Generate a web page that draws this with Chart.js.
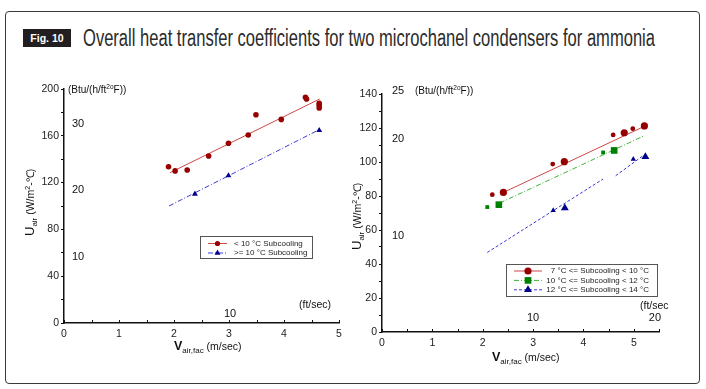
<!DOCTYPE html>
<html>
<head>
<meta charset="utf-8">
<title>Fig. 10 Overall heat transfer coefficients</title>
<script src="https://cdn.jsdelivr.net/npm/chart.js"></script>
<style>
  body { margin: 0; background: #fff; }
  #wrap { position: relative; width: 706px; height: 389px; overflow: hidden; }
  #frame { position: absolute; left: 5px; top: 11px; width: 693px; height: 371px;
           border: 1.5px solid #3a3a3a; border-radius: 4px; }
  #badge { position: absolute; left: 23px; top: 29px; width: 48px; height: 18px;
           background: #231f20; color: #fff; font: bold 10.5px "Liberation Sans", Arial, sans-serif;
           line-height: 18px; text-align: center; }
  #title { position: absolute; left: 83px; top: 27px; font: 23px "Liberation Sans Narrow", "Liberation Sans", sans-serif;
           line-height: 23px; color: #2b2b2b; white-space: nowrap; transform-origin: 0 0; }
  canvas { position: absolute; top: 0; }
</style>
</head>
<body>
<div id="wrap">
  <div id="frame"></div>
  <div id="badge">Fig. 10</div>
  <div id="title">Overall heat transfer coefficients for two microchanel condensers for ammonia</div>
  <canvas id="leftChart" width="350" height="389" style="left:0"></canvas>
  <canvas id="rightChart" width="356" height="389" style="left:350px"></canvas>
</div>

<script>
// ---- left panel: condenser 1 (m/sec, W/m2-C)
const leftLowX = [1.90, 2.02, 2.24, 2.63, 2.99, 3.35, 3.49, 3.95, 4.39, 4.41, 4.64, 4.64, 4.64];
const leftLowY = [133.6, 130.0, 130.8, 142.7, 153.6, 160.7, 178.0, 174.0, 193.0, 191.5, 187.8, 186.0, 183.8];
const leftLowFitX = [1.93, 4.65];
const leftLowFitY = [128.5, 191.5];
const leftHighX = [2.38, 2.99, 4.64];
const leftHighY = [110.3, 126.0, 164.7];
const leftHighFitX = [1.91, 4.65];
const leftHighFitY = [100.0, 165.5];

// ---- right panel: condenser 2
const r7X = [2.19, 2.41, 3.39, 3.62, 4.59, 4.81, 4.98, 5.21];
const r7Y = [80.8, 82.1, 98.8, 100.2, 115.9, 117.2, 119.6, 121.2];
const r7FitX = [2.41, 5.21];
const r7FitY = [82.1, 121.0];
const r10X = [2.09, 2.32, 4.39, 4.61];
const r10Y = [73.5, 74.9, 105.6, 106.8];
const r10FitX = [2.34, 5.21];
const r10FitY = [75.9, 115.5];
const r12X = [3.40, 3.63, 4.99, 5.23];
const r12Y = [71.5, 72.9, 101.7, 103.1];
const r12FitX = [2.09, 4.39, null, 4.64, 5.21];
const r12FitY = [46.8, 90.0, null, 91.9, 104.3];

// secondary unit labels
const leftBtuTicks = [10, 20, 30];
const leftFtTicks = ['10'];
const leftFtAt = [3.02];
const rightBtuTicks = [10, 20, 25];
const rightFtTicks = ['10', '20'];
const rightFtAt = [3.0, 5.42];
const BTU_TO_W = 5.678;

const zip = (xs, ys) => xs.map((x, i) => ({ x: x, y: ys[i] }));
const FONT = '"Liberation Sans", Arial, sans-serif';
Chart.defaults.font.family = FONT;
Chart.defaults.color = '#222';

// title squeezed to the width of the condensed original
const titleEl = document.getElementById('title');
titleEl.style.transform = 'scaleX(' + (572 / titleEl.getBoundingClientRect().width) + ')';

function drawMarker(ctx, style, x, y, r, color) {
  ctx.fillStyle = color;
  ctx.beginPath();
  if (style === 'circle') {
    ctx.arc(x, y, r, 0, Math.PI * 2);
  } else if (style === 'rect') {
    const s = r / Math.SQRT2;
    ctx.rect(x - s, y - s, 2 * s, 2 * s);
  } else {
    const a = Math.PI * 2 / 3;
    ctx.moveTo(x, y - r);
    ctx.lineTo(x + Math.sin(a) * r, y - Math.cos(a) * r);
    ctx.lineTo(x - Math.sin(a) * r, y - Math.cos(a) * r);
    ctx.closePath();
  }
  ctx.fill();
}

// text runs with sub/superscripts, left to right from (x, y)
function drawRich(ctx, x, y, parts) {
  ctx.textAlign = 'left';
  ctx.textBaseline = 'alphabetic';
  parts.forEach(p => {
    ctx.font = p.f + ' ' + FONT;
    ctx.fillText(p.t, x, y + (p.dy || 0));
    x += ctx.measureText(p.t).width;
  });
}

const extras = {
  id: 'extras',
  afterDraw(chart, args, o) {
    const ctx = chart.ctx, xs = chart.scales.x, ys = chart.scales.y, ca = chart.chartArea;
    ctx.save();
    ctx.fillStyle = '#111';

    // inward tick marks on x axis
    ctx.strokeStyle = '#111';
    ctx.lineWidth = 1;
    xs.ticks.forEach(t => {
      const px = Math.round(xs.getPixelForValue(t.value)) + 0.5;
      ctx.beginPath();
      ctx.moveTo(px, ca.bottom);
      ctx.lineTo(px, ca.bottom - 3);
      ctx.stroke();
    });

    // Btu labels inside the plot
    ctx.font = '11px ' + FONT;
    ctx.textAlign = 'left';
    ctx.textBaseline = 'middle';
    o.btu.forEach(v => ctx.fillText(String(v), ca.left + o.btuDx, ys.getPixelForValue(v * BTU_TO_W)));
    drawRich(ctx, ca.left + o.btuUnitDx, ca.top + o.btuUnitDy, [
      { t: '(Btu/(h/ft', f: '10px' }, { t: '2o', f: '6.5px', dy: -4 }, { t: 'F))', f: '10px' }]);

    // ft/sec labels
    ctx.font = '11px ' + FONT;
    ctx.textAlign = 'center';
    ctx.textBaseline = 'middle';
    o.ft.forEach((lab, i) => ctx.fillText(lab, xs.getPixelForValue(o.ftAt[i]), ca.bottom - o.ftDy));
    ctx.textAlign = 'left';
    ctx.font = '10.5px ' + FONT;
    ctx.fillText(o.ftUnit, o.ftUnitX, ca.bottom - o.ftUnitDy);

    // axis titles
    ctx.fillStyle = '#111';
    drawRich(ctx, o.xTitleX, o.xTitleY, [
      { t: 'V', f: 'bold 12.5px' }, { t: 'air,fac', f: '8px', dy: 3 }, { t: ' (m/sec)', f: '10.5px' }]);
    ctx.save();
    ctx.translate(o.yTitleX, o.yTitleY);
    ctx.rotate(-Math.PI / 2);
    drawRich(ctx, 0, 0, [
      { t: 'U', f: '13px' }, { t: 'air', f: '8px', dy: 3 }, { t: ' (W/m', f: '10.5px' },
      { t: '2', f: '7px', dy: -4 }, { t: '-\u2103)', f: '10.5px' }]);
    ctx.restore();

    // legend box
    const L = o.legend;
    ctx.fillStyle = '#fff';
    ctx.fillRect(L.x, L.y, L.w, L.h);
    ctx.strokeStyle = '#555';
    ctx.lineWidth = 1;
    ctx.strokeRect(L.x + 0.5, L.y + 0.5, L.w, L.h);
    L.pairs.forEach((pr, i) => {
      const m = chart.data.datasets[pr[0]], ln = chart.data.datasets[pr[1]];
      const yy = L.y + L.row0 + i * L.rowH;
      ctx.strokeStyle = ln.borderColor;
      ctx.lineWidth = 1;
      ctx.setLineDash(ln.borderDash || []);
      ctx.beginPath();
      ctx.moveTo(L.x + L.lx0, yy);
      ctx.lineTo(L.x + L.lx1, yy);
      ctx.stroke();
      ctx.setLineDash([]);
      drawMarker(ctx, m.pointStyle, L.x + (L.lx0 + L.lx1) / 2, yy, L.mr[i], m.backgroundColor);
      ctx.fillStyle = '#222';
      ctx.font = L.font + ' ' + FONT;
      ctx.textAlign = L.align;
      ctx.textBaseline = 'middle';
      ctx.fillText(m.label, L.x + L.tx, yy);
    });
    ctx.restore();
  }
};

function axes(xMax, yMax, yStep, yLab, yWidth) {
  return {
    x: {
      type: 'linear', min: 0, max: xMax,
      grid: { display: false, drawTicks: false },
      border: { display: true, color: '#111', width: 1.5 },
      ticks: {
        stepSize: 0.5, padding: 5, maxRotation: 0, autoSkip: false,
        font: { size: 10.5 }, color: '#222',
        callback: v => Math.abs(v - Math.round(v)) < 1e-6 ? String(Math.round(v)) : ''
      },
      afterFit: s => { s.height = 20; }
    },
    y: {
      type: 'linear', min: 0, max: yMax,
      grid: { display: true, drawOnChartArea: false, drawTicks: true, tickLength: 3, color: '#111' },
      border: { display: true, color: '#111', width: 1.5 },
      ticks: {
        stepSize: yStep, padding: 2, autoSkip: false, font: { size: 10.5 }, color: '#222',
        callback: v => v % yLab === 0 ? String(v) : ''
      },
      afterFit: s => { s.width = yWidth; }
    }
  };
}

const RED = '#960000', RED_LINE = '#d04848';
const BLUE = '#00008c', BLUE_LINE = '#3a3ad0';
const GREEN = '#008000', GREEN_LINE = '#3cb43c';

new Chart(document.getElementById('leftChart'), {
  type: 'scatter',
  data: {
    datasets: [
      { label: '< 10 \u00b0C Subcooling', data: zip(leftLowX, leftLowY), pointStyle: 'circle',
        pointRadius: 2.8, backgroundColor: RED, borderWidth: 0 },
      { label: 'fit', data: zip(leftLowFitX, leftLowFitY), showLine: true, pointRadius: 0,
        borderColor: RED_LINE, borderWidth: 1 },
      { label: '>= 10 \u00b0C Subcooling', data: zip(leftHighX, leftHighY), pointStyle: 'triangle',
        pointRadius: 3.4, backgroundColor: BLUE, borderWidth: 0 },
      { label: 'fit', data: zip(leftHighFitX, leftHighFitY), showLine: true, pointRadius: 0,
        borderColor: BLUE_LINE, borderWidth: 1, borderDash: [5, 2, 1, 2] }
    ]
  },
  options: {
    responsive: false, animation: false, devicePixelRatio: 1,
    layout: { padding: { left: 0, right: 11, top: 89, bottom: 46 } },
    scales: axes(5, 200, 20, 40, 64),
    plugins: {
      legend: { display: false }, tooltip: { enabled: false },
      extras: {
        btu: leftBtuTicks, btuDx: 8, btuUnitDx: 4, btuUnitDy: 4,
        ft: leftFtTicks, ftAt: leftFtAt, ftDy: 9, ftUnit: '(ft/sec)', ftUnitX: 299, ftUnitDy: 18,
        xTitleX: 174, xTitleY: 350, yTitleX: 34, yTitleY: 236,
        legend: { x: 200, y: 236, w: 112, h: 22, row0: 7.5, rowH: 9.5, lx0: 8, lx1: 27, tx: 34,
                  align: 'left', font: '8px', mr: [2.6, 3.4], pairs: [[0, 1], [2, 3]] }
      }
    }
  },
  plugins: [extras]
});

const smallBig = (n, s, b) => Array.from({ length: n }, (_, i) => i % 2 ? b : s);

new Chart(document.getElementById('rightChart'), {
  type: 'scatter',
  data: {
    datasets: [
      { label: '7 \u00b0C <= Subcooling < 10 \u00b0C', data: zip(r7X, r7Y), pointStyle: 'circle',
        pointRadius: smallBig(r7X.length, 2.4, 3.6), backgroundColor: RED, borderWidth: 0 },
      { label: 'fit', data: zip(r7FitX, r7FitY), showLine: true, pointRadius: 0,
        borderColor: RED_LINE, borderWidth: 1 },
      { label: '10 \u00b0C <= Subcooling < 12 \u00b0C', data: zip(r10X, r10Y), pointStyle: 'rect',
        pointRadius: smallBig(r10X.length, 2.7, 4.7), backgroundColor: GREEN, borderWidth: 0 },
      { label: 'fit', data: zip(r10FitX, r10FitY), showLine: true, pointRadius: 0,
        borderColor: GREEN_LINE, borderWidth: 1, borderDash: [5, 2, 1, 2] },
      { label: '12 \u00b0C <= Subcooling < 14 \u00b0C', data: zip(r12X, r12Y), pointStyle: 'triangle',
        pointRadius: smallBig(r12X.length, 3.1, 4.6), backgroundColor: BLUE, borderWidth: 0 },
      { label: 'fit', data: zip(r12FitX, r12FitY), showLine: true, spanGaps: false, pointRadius: 0,
        borderColor: BLUE_LINE, borderWidth: 1, borderDash: [3, 2] }
    ]
  },
  options: {
    responsive: false, animation: false, devicePixelRatio: 1,
    layout: { padding: { left: 0, right: 47, top: 94, bottom: 37 } },
    scales: axes(5.5, 140, 10, 20, 32),
    plugins: {
      legend: { display: false }, tooltip: { enabled: false },
      extras: {
        btu: rightBtuTicks, btuDx: 10, btuUnitDx: 33, btuUnitDy: 0,
        ft: rightFtTicks, ftAt: rightFtAt, ftDy: 14, ftUnit: '(ft/sec', ftUnitX: 290, ftUnitDy: 26,
        xTitleX: 142, xTitleY: 361, yTitleX: 11, yTitleY: 250,
        legend: { x: 156, y: 264, w: 151, h: 32, row0: 7, rowH: 9.4, lx0: 8, lx1: 36, tx: 143,
                  align: 'right', font: '8px', mr: [3.6, 4.7, 4.6], pairs: [[0, 1], [2, 3], [4, 5]] }
      }
    }
  },
  plugins: [extras]
});
</script>
</body>
</html>
